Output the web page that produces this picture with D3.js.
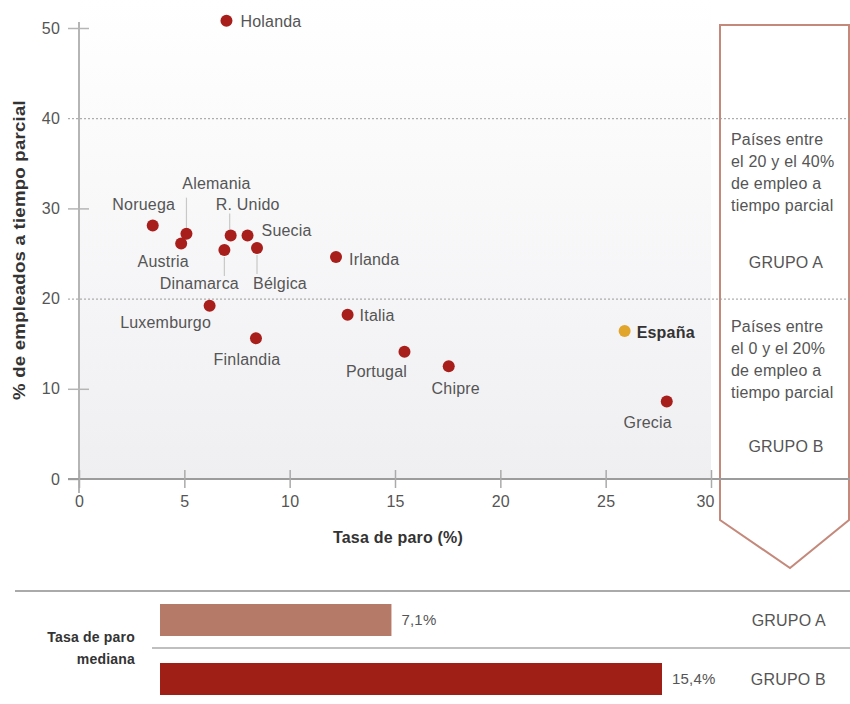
<!DOCTYPE html>
<html>
<head>
<meta charset="utf-8">
<script src="https://cdn.jsdelivr.net/npm/d3@7"></script>
<style>
  body { margin: 0; background: #fff; }
  text { font-family: "Liberation Sans", Arial, sans-serif; letter-spacing: 0.2px; }
</style>
</head>
<body>
<div id="chart"></div>
<script>
// data
var countries = ["Holanda", "Noruega", "Alemania", "Austria", "R. Unido", "Suecia", "Dinamarca", "Bélgica",
  "Irlanda", "Luxemburgo", "Italia", "Finlandia", "Portugal", "Chipre", "España", "Grecia"];
var paro = [7.0, 3.5, 5.1, 4.85, 7.2, 8.0, 6.9, 8.45, 12.2, 6.2, 12.75, 8.4, 15.45, 17.55, 25.9, 27.9];
var parcial = [50.8, 28.1, 27.2, 26.1, 27.0, 27.0, 25.4, 25.6, 24.6, 19.2, 18.2, 15.6, 14.1, 12.5, 16.4, 8.6];

var xTicks = [0, 5, 10, 15, 20, 25, 30];
var yTicks = [0, 10, 20, 30, 40, 50];
var gridTicks = [20, 40];

var grupos = ["GRUPO A", "GRUPO B"];
var medianas = [7.1, 15.4];
var grupoTexto = [
  ["Países entre", "el 20 y el 40%", "de empleo a", "tiempo parcial"],
  ["Países entre", "el 0 y el 20%", "de empleo a", "tiempo parcial"]
];

// label placement (offsets from the point, px)
var labelPos = {
  "Holanda":    { dx: 14,  dy: 1,   anchor: "start" },
  "Noruega":    { dx: -9,  dy: -21, anchor: "middle" },
  "Alemania":   { dx: 30,  dy: -50, anchor: "middle", lead: [0, -6, -36] },
  "Austria":    { dx: -18, dy: 18,  anchor: "middle" },
  "R. Unido":   { dx: 17,  dy: -31, anchor: "middle", lead: [-1, -6, -22] },
  "Suecia":     { dx: 14,  dy: -5,  anchor: "start" },
  "Dinamarca":  { dx: -25, dy: 34,  anchor: "middle", lead: [0, 7, 26] },
  "Bélgica":    { dx: 23,  dy: 35,  anchor: "middle", lead: [0, 7, 26] },
  "Irlanda":    { dx: 13,  dy: 2,   anchor: "start" },
  "Luxemburgo": { dx: -44, dy: 17,  anchor: "middle" },
  "Italia":     { dx: 12,  dy: 1,   anchor: "start" },
  "Finlandia":  { dx: -9,  dy: 21,  anchor: "middle" },
  "Portugal":   { dx: -28, dy: 20,  anchor: "middle" },
  "Chipre":     { dx: 7,   dy: 22,  anchor: "middle" },
  "España":     { dx: 12,  dy: 1,   anchor: "start" },
  "Grecia":     { dx: -19, dy: 21,  anchor: "middle" }
};

var width = 850,
  height = 704;

var svg = d3.select('#chart')
  .append('svg')
  .attr('width', width)
  .attr('height', height)

var x = d3.scaleLinear().domain([0, 30]).range([79, 711])
var y = d3.scaleLinear().domain([0, 50]).range([479, 28])

var defs = svg.append('defs')
var grad = defs.append('linearGradient')
  .attr('id', 'bg')
  .attr('x1', 0).attr('y1', 0).attr('x2', 0).attr('y2', 1)
grad.append('stop').attr('offset', '0%').attr('stop-color', '#ffffff')
grad.append('stop').attr('offset', '100%').attr('stop-color', '#efeff2')

// panel background
svg.append('rect')
  .attr('x', x(0))
  .attr('y', 0)
  .attr('width', x(30) - x(0))
  .attr('height', y(0))
  .attr('fill', 'url(#bg)')

// right box with chevron
svg.append('path')
  .attr('d', 'M720,25 L849,25 L849,520 L790,568 L720,520 Z')
  .attr('fill', '#fff')
  .attr('stroke', '#c4897b')
  .attr('stroke-width', 2)

// y axis
var yAxis = svg.append('g')
  .attr('transform', 'translate(' + x(0) + ',0)')
  .call(d3.axisLeft(y).tickValues(yTicks).tickSize(0).tickPadding(19))
yAxis.select('.domain').remove()
yAxis.append('line')
  .attr('x1', 0).attr('x2', 0)
  .attr('y1', 22).attr('y2', y(0) + 14)
  .attr('stroke', '#b5b5b5').attr('stroke-width', 2)
yAxis.selectAll('.tick line')
  .attr('x1', -11)
  .attr('x2', d => gridTicks.indexOf(d) >= 0 ? width - x(0) : 10)
  .attr('stroke', d => gridTicks.indexOf(d) >= 0 ? '#9a9a9a' : '#b5b5b5')
  .attr('stroke-width', d => gridTicks.indexOf(d) >= 0 ? 1 : 1.5)
  .attr('stroke-dasharray', d => gridTicks.indexOf(d) >= 0 ? '2,2' : null)
yAxis.selectAll('.tick line').filter(d => d === 0).attr('x2', 0)
yAxis.selectAll('.tick text')
  .attr('fill', '#555')
  .style('font-size', '16px')

// x axis
var xAxis = svg.append('g')
  .attr('transform', 'translate(0,' + y(0) + ')')
  .call(d3.axisBottom(x).tickValues(xTicks).tickSize(0).tickPadding(17))
xAxis.select('.domain').remove()
xAxis.insert('line', ':first-child')
  .attr('x1', x(0) - 11).attr('x2', width)
  .attr('y1', 0).attr('y2', 0)
  .attr('stroke', '#9c9c9c').attr('stroke-width', 2)
xAxis.selectAll('.tick line')
  .attr('y1', -9).attr('y2', 9)
  .attr('stroke', '#aaa').attr('stroke-width', 1.5)
xAxis.selectAll('.tick text')
  .attr('fill', '#555')
  .attr('dx', d => d === 30 ? -6 : 0)
  .style('font-size', '16px')

// axis titles
svg.append('text')
  .attr('x', 398).attr('y', 543)
  .attr('text-anchor', 'middle')
  .attr('fill', '#333')
  .style('font-size', '16px')
  .style('font-weight', 'bold')
  .text('Tasa de paro (%)')

svg.append('text')
  .attr('transform', 'translate(25,250) rotate(-90)')
  .attr('text-anchor', 'middle')
  .attr('fill', '#333')
  .attr('textLength', 300)
  .attr('lengthAdjust', 'spacingAndGlyphs')
  .style('font-size', '16px')
  .style('font-weight', 'bold')
  .text('% de empleados a tiempo parcial')

// box texts
grupoTexto.forEach(function (lines, g) {
  var top = g === 0 ? 139 : 326;
  svg.append('g').selectAll('text')
    .data(lines)
    .join('text')
    .attr('x', 731)
    .attr('y', (d, i) => top + i * 22)
    .attr('dy', '0.35em')
    .attr('fill', '#555')
    .style('font-size', '16px')
    .text(d => d)
  svg.append('text')
    .attr('x', 786)
    .attr('y', g === 0 ? 262 : 446)
    .attr('dy', '0.35em')
    .attr('text-anchor', 'middle')
    .attr('fill', '#555')
    .style('font-size', '16px')
    .text(grupos[g])
})

// scatter
var points = countries.map(function (c, i) {
  return { name: c, paro: paro[i], parcial: parcial[i] };
});

var pts = svg.append('g')

pts.selectAll('line.lead')
  .data(points.filter(d => labelPos[d.name].lead))
  .join('line')
  .attr('class', 'lead')
  .attr('x1', d => x(d.paro) + labelPos[d.name].lead[0])
  .attr('x2', d => x(d.paro) + labelPos[d.name].lead[0])
  .attr('y1', d => y(d.parcial) + labelPos[d.name].lead[1])
  .attr('y2', d => y(d.parcial) + labelPos[d.name].lead[2])
  .attr('stroke', '#c8c8c8')
  .attr('stroke-width', 1.2)

pts.selectAll('circle')
  .data(points)
  .join('circle')
  .attr('cx', d => x(d.paro))
  .attr('cy', d => y(d.parcial))
  .attr('r', 6)
  .attr('fill', d => d.name === 'España' ? '#e2a52c' : '#a81e1b')

pts.selectAll('text')
  .data(points)
  .join('text')
  .attr('x', d => x(d.paro) + labelPos[d.name].dx)
  .attr('y', d => y(d.parcial) + labelPos[d.name].dy)
  .attr('dy', '0.35em')
  .attr('text-anchor', d => labelPos[d.name].anchor)
  .attr('fill', d => d.name === 'España' ? '#333' : '#555')
  .style('font-size', '16px')
  .style('font-weight', d => d.name === 'España' ? 'bold' : 'normal')
  .text(d => d.name)

// bottom: median unemployment bars
var fmt = d3.formatLocale({ decimal: ",", thousands: ".", grouping: [3], currency: ["", "€"] }).format(".1f")

var xBar = d3.scaleLinear().domain([0, d3.max(medianas)]).range([160, 662])
var yBar = d3.scaleBand().domain(grupos).range([604, 695]).paddingInner(0.4576).paddingOuter(0)

svg.append('line')
  .attr('x1', 15).attr('x2', width)
  .attr('y1', 591).attr('y2', 591)
  .attr('stroke', '#aaa').attr('stroke-width', 2)
svg.append('line')
  .attr('x1', 152).attr('x2', width)
  .attr('y1', 648).attr('y2', 648)
  .attr('stroke', '#aaa').attr('stroke-width', 1.5)

var bars = svg.append('g')
bars.selectAll('rect')
  .data(grupos)
  .join('rect')
  .attr('x', xBar(0))
  .attr('y', d => yBar(d))
  .attr('width', (d, i) => xBar(medianas[i]) - xBar(0))
  .attr('height', yBar.bandwidth())
  .attr('fill', (d, i) => i === 0 ? '#b67a69' : '#9f1f16')

bars.selectAll('text.val')
  .data(grupos)
  .join('text')
  .attr('class', 'val')
  .attr('x', (d, i) => xBar(medianas[i]) + 10)
  .attr('y', d => yBar(d) + yBar.bandwidth() / 2)
  .attr('dy', '0.35em')
  .attr('fill', '#555')
  .style('font-size', '15px')
  .text((d, i) => fmt(medianas[i]) + '%')

bars.selectAll('text.grp')
  .data(grupos)
  .join('text')
  .attr('class', 'grp')
  .attr('x', 826)
  .attr('y', d => yBar(d) + yBar.bandwidth() / 2)
  .attr('dy', '0.35em')
  .attr('text-anchor', 'end')
  .attr('fill', '#555')
  .style('font-size', '16px')
  .text(d => d)

svg.append('text')
  .attr('x', 135).attr('y', 637)
  .attr('dy', '0.35em')
  .attr('text-anchor', 'end')
  .attr('fill', '#333')
  .style('font-size', '14px')
  .style('font-weight', 'bold')
  .text('Tasa de paro')
svg.append('text')
  .attr('x', 135).attr('y', 659)
  .attr('dy', '0.35em')
  .attr('text-anchor', 'end')
  .attr('fill', '#333')
  .style('font-size', '14px')
  .style('font-weight', 'bold')
  .text('mediana')
</script>
</body>
</html>
